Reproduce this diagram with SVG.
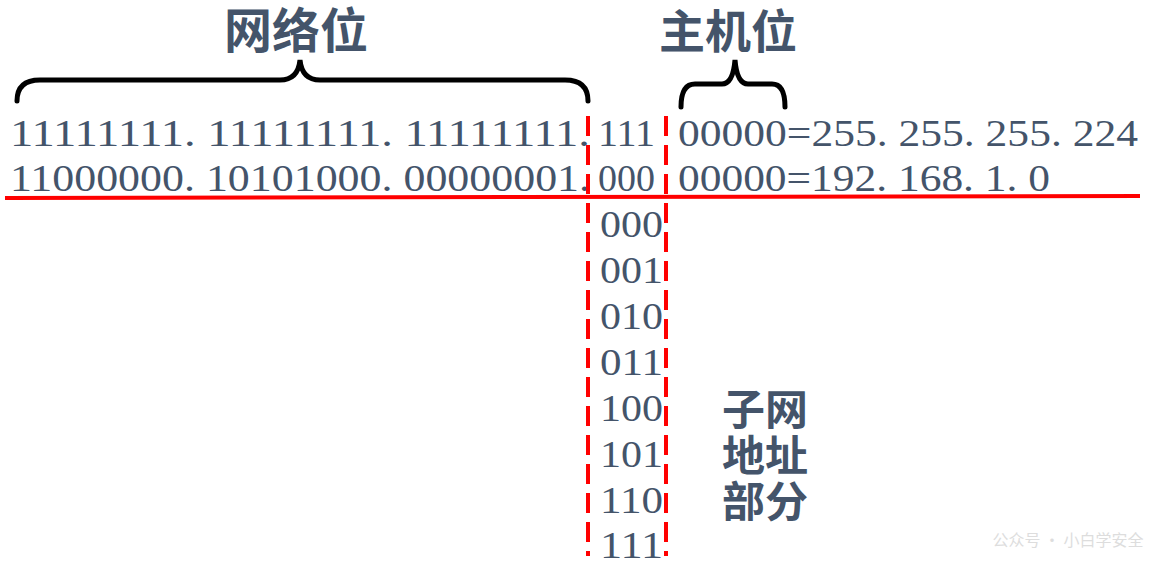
<svg xmlns="http://www.w3.org/2000/svg" width="1161" height="562" viewBox="0 0 1161 562">
<style>
.n{font-family:"Liberation Serif","Noto Sans CJK SC",serif;font-size:38px;fill:#44546a}
.h{font-family:"Noto Sans CJK SC",sans-serif;font-weight:bold;fill:#44546a}
.br{fill:none;stroke:#000;stroke-width:5;stroke-linecap:round}
.dl{stroke:#f00;stroke-width:4;stroke-dasharray:20 9}
</style>
<rect width="1161" height="562" fill="#fff"/>
<g id="labels">
<text class="h" x="296" y="48" font-size="48" text-anchor="middle">网络位</text>
<text class="h" x="728" y="48" font-size="46" text-anchor="middle">主机位</text>
<text class="h" x="722" y="425" font-size="42" textLength="86" lengthAdjust="spacingAndGlyphs">子网</text>
<text class="h" x="722" y="471" font-size="42" textLength="86" lengthAdjust="spacingAndGlyphs">地址</text>
<text class="h" x="722" y="517" font-size="42" textLength="86" lengthAdjust="spacingAndGlyphs">部分</text>
<text x="1068" y="546" font-family="Noto Sans CJK SC,sans-serif" font-size="16" fill="#ddd" text-anchor="middle">公众号 · 小白学安全</text>
</g>
<g id="rows">
<text class="n" x="10" y="146" textLength="580" lengthAdjust="spacingAndGlyphs">11111111. 11111111. 11111111.</text>
<text class="n" x="598" y="146" textLength="57" lengthAdjust="spacingAndGlyphs">111</text>
<text class="n" x="678" y="146" textLength="460" lengthAdjust="spacingAndGlyphs">00000=255. 255. 255. 224</text>
<text class="n" x="10" y="191" textLength="580" lengthAdjust="spacingAndGlyphs">11000000. 10101000. 00000001.</text>
<text class="n" x="598" y="191" textLength="57" lengthAdjust="spacingAndGlyphs">000</text>
<text class="n" x="678" y="191" textLength="372" lengthAdjust="spacingAndGlyphs">00000=192. 168. 1. 0</text>
</g>
<g id="column" class="n">
<text x="600" y="237" textLength="63" lengthAdjust="spacingAndGlyphs">000</text>
<text x="600" y="283" textLength="63" lengthAdjust="spacingAndGlyphs">001</text>
<text x="600" y="329" textLength="63" lengthAdjust="spacingAndGlyphs">010</text>
<text x="600" y="375" textLength="63" lengthAdjust="spacingAndGlyphs">011</text>
<text x="600" y="421" textLength="63" lengthAdjust="spacingAndGlyphs">100</text>
<text x="600" y="467" textLength="63" lengthAdjust="spacingAndGlyphs">101</text>
<text x="600" y="513" textLength="63" lengthAdjust="spacingAndGlyphs">110</text>
<text x="600" y="558" textLength="63" lengthAdjust="spacingAndGlyphs">111</text>
</g>
<g id="connectors">
<path class="br" d="M17 101 Q17 80 40 80 L280 80 Q298 80 300 60 Q302 80 320 80 L565 80 Q588 80 588 101"/>
<path class="br" d="M681 107 Q681 84 695 84 L722 84 Q733 84 735 60 Q737 84 748 84 L772 84 Q785 84 785 107"/>
<line x1="5" y1="198" x2="1140" y2="196" stroke="#f00" stroke-width="4"/>
<line class="dl" x1="588" y1="116" x2="588" y2="556"/>
<line class="dl" x1="666" y1="116" x2="666" y2="556"/>
</g>
</svg>
